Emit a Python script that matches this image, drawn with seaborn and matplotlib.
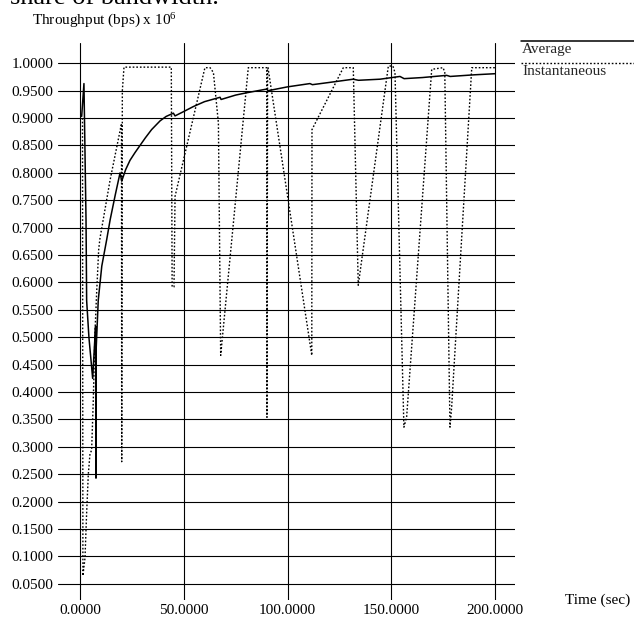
import matplotlib
matplotlib.use("Agg")
import matplotlib.pyplot as plt
import pandas as pd
import seaborn as sns
from matplotlib.lines import Line2D

# ---- data ----
avg_t = [0.8, 1.9, 2.9, 3.2, 4.3, 6.1, 7.2, 7.5, 7.7, 7.8, 8.8, 10.5, 12.9, 14.5, 17.0,
         19.3, 20.1, 22.0, 24.1, 26.5, 28.9, 31.5, 34.5, 38.6, 41.5, 45.0, 45.8, 50.0,
         54.6, 60.0, 67.5, 68.0, 75.0, 80.0, 90.0, 90.6, 100.0, 110.8, 112.0, 120.0,
         131.7, 134.2, 144.6, 154.2, 156.2, 165.0, 176.7, 178.4, 190.0, 200.0]
avg_v = [0.903, 0.963, 0.714, 0.567, 0.50, 0.425, 0.50, 0.52, 0.243, 0.48, 0.568, 0.63,
         0.679, 0.714, 0.76, 0.80, 0.785, 0.806, 0.823, 0.837, 0.850, 0.864, 0.879, 0.895,
         0.903, 0.909, 0.904, 0.912, 0.921, 0.930, 0.938, 0.934, 0.942, 0.946, 0.953,
         0.950, 0.957, 0.963, 0.961, 0.965, 0.971, 0.969, 0.971, 0.976, 0.972, 0.974,
         0.978, 0.976, 0.979, 0.981]

inst_t = [1.2, 1.4, 2.4, 3.2, 4.0, 4.8, 5.6, 6.4, 7.2, 8.0, 9.0, 9.6, 14.5, 20.0, 20.1,
          20.4, 21.2, 44.0, 44.4, 45.3, 45.8, 60.2, 62.7, 64.3, 66.7, 67.8, 81.1, 90.0,
          90.1, 90.4, 90.6, 111.7, 111.8, 126.9, 131.7, 134.1, 148.6, 150.8, 151.8, 156.1,
          157.4, 169.5, 175.0, 175.8, 178.3, 179.1, 188.8, 200.0]
inst_v = [0.90, 0.065, 0.097, 0.18, 0.25, 0.287, 0.294, 0.385, 0.507, 0.58, 0.66, 0.68,
          0.787, 0.89, 0.273, 0.95, 0.993, 0.993, 0.592, 0.592, 0.757, 0.992, 0.992, 0.983,
          0.891, 0.467, 0.992, 0.992, 0.354, 0.992, 0.992, 0.467, 0.879, 0.992, 0.992,
          0.595, 0.995, 0.995, 0.983, 0.336, 0.354, 0.989, 0.992, 0.983, 0.336, 0.372,
          0.992, 0.992]

x_ticks = [0, 50, 100, 150, 200]
x_tick_labels = ["0.0000", "50.0000", "100.0000", "150.0000", "200.0000"]
y_ticks = [0.05, 0.10, 0.15, 0.20, 0.25, 0.30, 0.35, 0.40, 0.45, 0.50,
           0.55, 0.60, 0.65, 0.70, 0.75, 0.80, 0.85, 0.90, 0.95, 1.00]
y_tick_labels = ["0.0500", "0.1000", "0.1500", "0.2000", "0.2500", "0.3000", "0.3500",
                 "0.4000", "0.4500", "0.5000", "0.5500", "0.6000", "0.6500", "0.7000",
                 "0.7500", "0.8000", "0.8500", "0.9000", "0.9500", "1.0000"]

series_names = ["Average", "Instantaneous"]

# ---- style ----
sns.set_theme(style="white")
plt.rcParams["font.family"] = ["Liberation Serif", "DejaVu Serif"]
plt.rcParams["mathtext.fontset"] = "custom"
plt.rcParams["mathtext.rm"] = "Liberation Serif"
plt.rcParams["mathtext.it"] = "Liberation Serif:italic"

W, H = 634, 624
fig = plt.figure(figsize=(W / 100, H / 100), dpi=100)
fig.patch.set_facecolor("white")

ax_left, ax_right, ax_top, ax_bottom = 58.3, 515.0, 43.3, 600.0
ax = fig.add_axes([ax_left / W, 1 - ax_bottom / H,
                   (ax_right - ax_left) / W, (ax_bottom - ax_top) / H])
ax.set_facecolor("white")

# grid lines
for yv in y_ticks:
    ax.axhline(yv, color="black", lw=0.8, zorder=1)
for xv in x_ticks:
    ax.axvline(xv, color="black", lw=0.8, zorder=1)

df_avg = pd.DataFrame({"t": avg_t, "v": avg_v})
df_inst = pd.DataFrame({"t": inst_t, "v": inst_v})

sns.lineplot(data=df_inst, x="t", y="v", sort=False, estimator=None, ax=ax,
             color="black", lw=1.0, linestyle=(0, (1.2, 1.4)), zorder=3)
sns.lineplot(data=df_avg, x="t", y="v", sort=False, estimator=None, ax=ax,
             color="black", lw=1.1, zorder=4)

ax.set_xlim(-10.46, 209.64)
ax.set_ylim(0.0206, 1.0365)
for s in ax.spines.values():
    s.set_visible(False)
ax.set_xticks(x_ticks)
ax.set_xticklabels(x_tick_labels)
ax.set_yticks(y_ticks)
ax.set_yticklabels(y_tick_labels)
ax.tick_params(axis="both", length=0, labelsize=11, colors="black")
ax.tick_params(axis="y", pad=3.6)
ax.tick_params(axis="x", pad=3.0)
ax.set_xlabel("")
ax.set_ylabel("")

# texts
fig.text(10 / W, 1 - 3.5 / H, "share of bandwidth.", fontsize=19,
         ha="left", va="baseline", color="black")
fig.text(32 / W, 1 - 25 / H, r"Throughput (bps) x 10$^{\mathrm{6}}$", fontsize=11,
         ha="left", va="baseline", color="black")
fig.text(565 / W, 1 - 600 / H, "Time (sec)", fontsize=11,
         ha="left", va="center", color="black")

# legend (line above label)
fig.add_artist(Line2D([521 / W, 1.0], [1 - 40.7 / H] * 2, transform=fig.transFigure,
                      color="black", lw=1.1))
fig.text(522 / W, 1 - 49 / H, series_names[0], fontsize=11, ha="left", va="center")
fig.add_artist(Line2D([521 / W, 1.0], [1 - 62.7 / H] * 2, transform=fig.transFigure,
                      color="black", lw=1.0, linestyle=(0, (1.2, 1.4))))
fig.text(522 / W, 1 - 71.5 / H, series_names[1], fontsize=11, ha="left", va="center")

fig.savefig("out.png", dpi=100, facecolor="white")
